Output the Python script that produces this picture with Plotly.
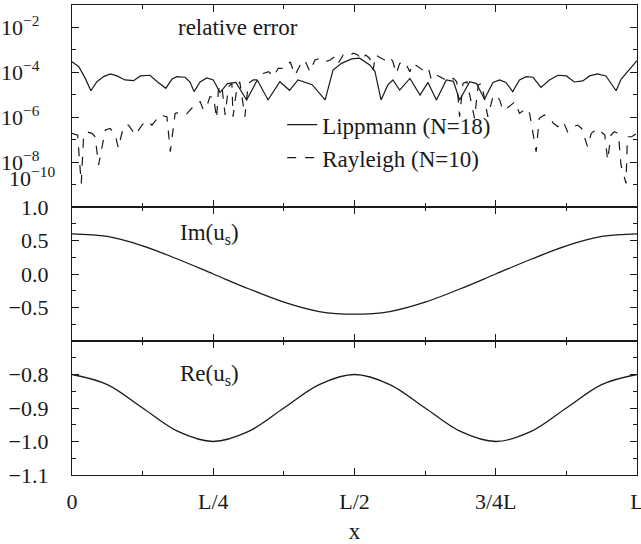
import numpy as np
import plotly.graph_objects as go
from plotly.subplots import make_subplots

# relative error curves (x in units of L, value as log10 of the error)
lipp_x = [0.000, 0.012, 0.0235, 0.0335, 0.044, 0.056, 0.068, 0.0795, 0.094, 0.109,
          0.121, 0.138, 0.151, 0.166, 0.177, 0.1855, 0.200, 0.209, 0.216, 0.2267,
          0.2385, 0.250, 0.262, 0.275, 0.290, 0.309, 0.328, 0.347, 0.368, 0.385,
          0.400, 0.425, 0.448, 0.462, 0.477, 0.495, 0.509, 0.527, 0.536, 0.547,
          0.559, 0.568, 0.580, 0.598, 0.616, 0.630, 0.645, 0.6625, 0.675, 0.686,
          0.704, 0.716, 0.730, 0.745, 0.757, 0.768, 0.780, 0.792, 0.804, 0.816,
          0.830, 0.845, 0.860, 0.875, 0.889, 0.904, 0.916, 0.930, 0.945, 0.963,
          0.972, 0.983, 1.000]
lipp_log = [-3.53, -3.75, -4.27, -4.82, -4.42, -4.19, -4.07, -4.16, -4.34, -4.37,
            -4.16, -4.13, -4.42, -4.71, -4.30, -4.19, -4.22, -4.43, -4.86, -4.43,
            -4.25, -4.34, -4.90, -4.50, -4.45, -5.23, -4.34, -5.23, -4.42, -4.80,
            -4.34, -4.55, -5.23, -3.90, -3.60, -3.40, -3.37, -3.67, -3.94, -5.23,
            -4.56, -4.34, -4.79, -4.27, -5.01, -4.45, -5.23, -4.34, -4.40, -5.23,
            -4.42, -4.50, -5.20, -4.45, -4.34, -4.45, -4.86, -4.34, -4.19, -4.22,
            -4.67, -4.34, -4.13, -4.16, -4.43, -4.38, -4.16, -4.07, -4.16, -4.82,
            -4.30, -3.98, -3.48]

rayl_x = [0.000, 0.010, 0.0134, 0.0164, 0.0205, 0.0265, 0.0353, 0.041, 0.047, 0.053,
          0.059, 0.0677, 0.0765, 0.082, 0.091, 0.100, 0.112, 0.1238, 0.132, 0.1415,
          0.156, 0.168, 0.174, 0.1825, 0.194, 0.203, 0.212, 0.218, 0.227, 0.2325,
          0.2385, 0.244, 0.2505, 0.256, 0.259, 0.265, 0.271, 0.277, 0.283, 0.285,
          0.292, 0.297, 0.306, 0.312, 0.321, 0.330, 0.3385, 0.348, 0.357, 0.365,
          0.377, 0.386, 0.395, 0.404, 0.412, 0.421, 0.430, 0.4385, 0.448, 0.457,
          0.465, 0.471, 0.480, 0.489, 0.498, 0.506, 0.512, 0.520, 0.527, 0.533,
          0.5375, 0.548, 0.554, 0.5625, 0.568, 0.574, 0.580, 0.589, 0.598, 0.604,
          0.616, 0.625, 0.631, 0.636, 0.645, 0.657, 0.665, 0.675, 0.681, 0.686,
          0.692, 0.699, 0.7125, 0.719, 0.725, 0.736, 0.745, 0.751, 0.757, 0.7625,
          0.766, 0.778, 0.784, 0.792, 0.804, 0.810, 0.8215, 0.827, 0.836, 0.846,
          0.852, 0.860, 0.8697, 0.877, 0.887, 0.895, 0.902, 0.9125, 0.919, 0.930,
          0.943, 0.948, 0.954, 0.960, 0.967, 0.9717, 0.9806, 0.983, 0.9905, 1.000]
rayl_log = [-6.72, -6.80, -7.98, -8.95, -6.87, -6.65, -6.72, -6.87, -8.13, -7.31,
            -6.57, -6.50, -6.79, -7.37, -6.42, -6.35, -6.79, -6.35, -6.16, -6.35,
            -5.90, -5.98, -7.54, -5.83, -5.75, -5.85, -5.60, -5.38, -5.31, -5.68,
            -5.53, -5.09, -5.09, -6.05, -4.79, -4.56, -5.90, -4.64, -4.49, -5.98,
            -4.64, -4.42, -5.98, -4.49, -4.34, -4.34, -4.05, -3.97, -4.19, -3.82,
            -3.82, -3.53, -4.12, -3.67, -3.45, -3.97, -3.45, -3.38, -3.53, -3.45,
            -3.30, -3.60, -3.23, -3.30, -3.15, -3.23, -3.45, -3.23, -3.38, -3.90,
            -3.23, -3.38, -3.45, -3.30, -3.53, -4.05, -3.60, -3.53, -3.97, -3.60,
            -3.82, -3.97, -3.82, -4.34, -4.12, -4.27, -4.42, -4.27, -4.42, -5.98,
            -4.49, -4.42, -6.05, -4.56, -4.49, -5.98, -5.09, -5.01, -5.23, -5.68,
            -5.68, -5.46, -5.31, -5.83, -5.60, -5.83, -7.54, -6.05, -5.90, -6.05,
            -6.27, -6.42, -6.20, -6.65, -6.42, -6.35, -6.50, -7.31, -6.72, -6.50,
            -6.79, -7.91, -6.79, -6.65, -6.72, -8.13, -8.95, -6.87, -6.87, -6.72]

# scattered field, sampled every L/16
u_x = [i / 16 for i in range(17)]
im_us = [0.60, 0.56, 0.42, 0.22, 0.0, -0.22, -0.42, -0.56, -0.60,
         -0.56, -0.42, -0.22, 0.0, 0.22, 0.42, 0.56, 0.60]
re_us = [-0.80, -0.83, -0.90, -0.97, -1.00, -0.97, -0.90, -0.83, -0.80,
         -0.83, -0.90, -0.97, -1.00, -0.97, -0.90, -0.83, -0.80]

x_ticks = [0, 0.25, 0.5, 0.75, 1]
x_labels = ["0", "L/4", "L/2", "3/4L", "L"]
err_ticks = [1e-2, 1e-4, 1e-6, 1e-8]
err_labels = ["10<sup>−2</sup>", "10<sup>−4</sup>", "10<sup>−6</sup>", "10<sup>−8</sup>"]
im_ticks = [1.0, 0.5, 0.0, -0.5]
im_labels = ["1.0", "0.5", "0.0", "−0.5"]
re_ticks = [-0.8, -0.9, -1.0, -1.1]
re_labels = ["−0.8", "−0.9", "−1.0", "−1.1"]

FONT = "Liberation Serif, Times New Roman, serif"
INK = "#1a1a1a"

fig = make_subplots(rows=3, cols=1, shared_xaxes=True, vertical_spacing=0,
                    row_heights=[202, 134, 134])

fig.add_trace(go.Scatter(x=lipp_x, y=10 ** np.array(lipp_log), mode="lines",
                         name="Lippmann (N=18)",
                         line=dict(color=INK, width=1.2)), row=1, col=1)
fig.add_trace(go.Scatter(x=rayl_x, y=10 ** np.array(rayl_log), mode="lines",
                         name="Rayleigh (N=10)",
                         line=dict(color=INK, width=1.2, dash="dash")), row=1, col=1)
fig.add_trace(go.Scatter(x=u_x, y=im_us, mode="lines", showlegend=False,
                         line=dict(color=INK, width=1.3, shape="spline")), row=2, col=1)
fig.add_trace(go.Scatter(x=u_x, y=re_us, mode="lines", showlegend=False,
                         line=dict(color=INK, width=1.3, shape="spline")), row=3, col=1)

axis_style = dict(showline=True, linecolor=INK, linewidth=1.2, mirror="allticks",
                  ticks="inside", ticklen=7, tickcolor=INK, tickwidth=1,
                  showgrid=False, zeroline=False, automargin=False,
                  tickfont=dict(family=FONT, size=22, color=INK))

for r in (1, 2, 3):
    fig.update_xaxes(axis_style, range=[0, 1], tickvals=x_ticks, ticktext=x_labels,
                     minor=dict(tickvals=[0.125, 0.375, 0.625, 0.875], ticklen=4,
                                tickcolor=INK, ticks="inside"),
                     row=r, col=1)
fig.update_xaxes(ticklabelstandoff=6, ticklabeloverflow="allow",
                 title=dict(text="x", font=dict(family=FONT, size=23, color=INK),
                            standoff=22), row=3, col=1)

fig.update_yaxes(axis_style, type="log", range=[-10, -1], tickvals=err_ticks,
                 ticktext=err_labels, ticklabelstandoff=27,
                 minor=dict(tickvals=[1e-3, 1e-5, 1e-7, 1e-9], ticklen=4,
                            tickcolor=INK, ticks="inside"),
                 row=1, col=1)
fig.update_yaxes(axis_style, range=[-1, 1], tickvals=im_ticks, ticktext=im_labels,
                 ticklabelstandoff=18,
                 minor=dict(tickvals=[0.75, 0.25, -0.25, -0.75], ticklen=4,
                            tickcolor=INK, ticks="inside"),
                 row=2, col=1)
fig.update_yaxes(axis_style, range=[-1.1, -0.7], tickvals=re_ticks, ticktext=re_labels,
                 ticklabelstandoff=18,
                 minor=dict(tickvals=[-0.75, -0.85, -0.95, -1.05], ticklen=4,
                            tickcolor=INK, ticks="inside"),
                 row=3, col=1)

txt = dict(family=FONT, size=23, color=INK)
fig.add_annotation(text="relative error", xref="paper", yref="paper", x=0.1845, y=0.953,
                   xanchor="left", yanchor="middle", showarrow=False, font=txt)
fig.add_annotation(text="Im(u<sub>s</sub>)", xref="paper", yref="paper", x=0.187, y=0.512,
                   xanchor="left", yanchor="middle", showarrow=False, font=txt)
fig.add_annotation(text="Re(u<sub>s</sub>)", xref="paper", yref="paper", x=0.187, y=0.213,
                   xanchor="left", yanchor="middle", showarrow=False, font=txt)
# the bottom decade label sits a little above its tick in the original
fig.add_annotation(text="10<sup>−10</sup>", xref="paper", yref="y", x=-0.115, y=-8.68,
                   xanchor="left", yanchor="middle", showarrow=False,
                   font=dict(family=FONT, size=22, color=INK))

fig.update_layout(
    width=641, height=544,
    margin=dict(l=72, r=4, t=5, b=69, autoexpand=False),
    paper_bgcolor="white", plot_bgcolor="white",
    font=dict(family=FONT, color=INK),
    legend=dict(x=0.372, y=0.791, xanchor="left", yanchor="top",
                bgcolor="rgba(0,0,0,0)", font=dict(family=FONT, size=23, color=INK),
                tracegroupgap=0),
)

# drop the browser's default 8px page margin so the figure sits at the window corner
fig.write_html("out.html", config={"displayModeBar": False},
               post_script="document.body.style.margin = '0px';")
